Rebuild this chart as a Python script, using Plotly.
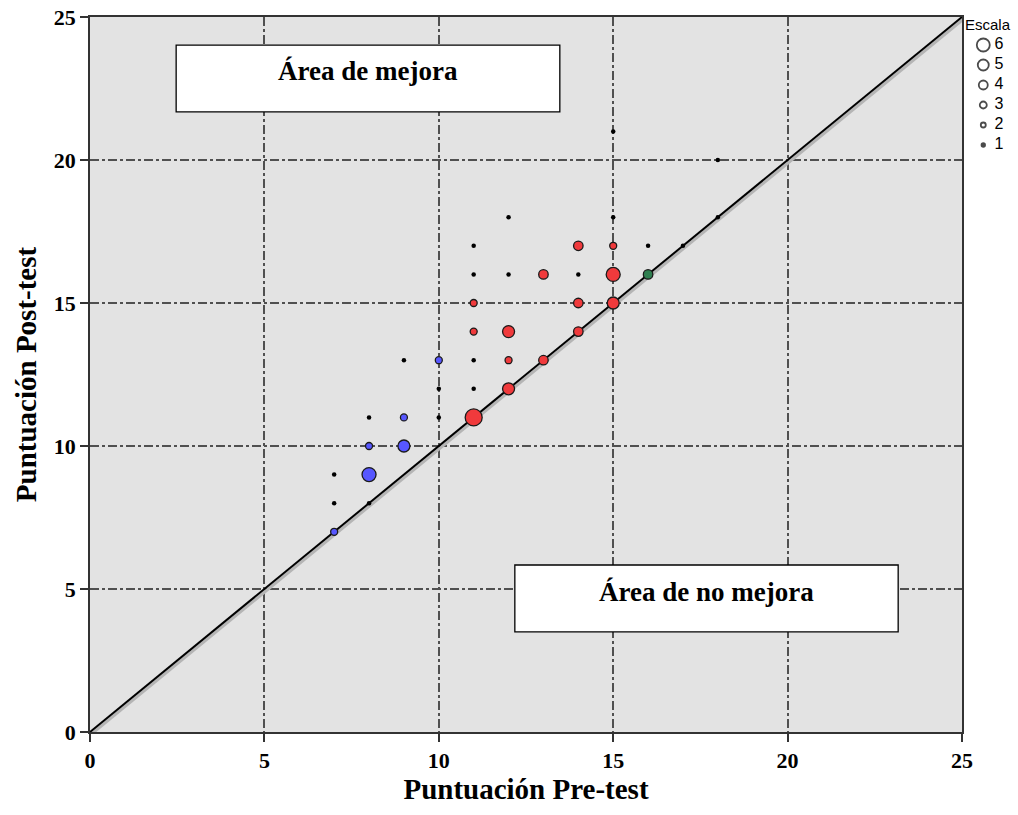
import plotly.graph_objects as go

# ---------------- data ----------------
pre_scores  = [7, 7, 7, 8, 8, 8, 8, 9, 9, 9, 10, 10, 10,
               11, 11, 11, 11, 11, 11, 11, 12, 12, 12, 12, 12,
               13, 13, 14, 14, 14, 14, 15, 15, 15, 15, 15,
               16, 16, 17, 18, 18]
post_scores = [7, 8, 9, 8, 9, 10, 11, 10, 11, 13, 11, 12, 13,
               11, 12, 13, 14, 15, 16, 17, 12, 13, 14, 16, 18,
               13, 16, 14, 15, 16, 17, 15, 16, 17, 18, 21,
               16, 17, 17, 18, 20]
counts      = [2, 1, 1, 1, 5, 2, 1, 4, 2, 1, 1, 1, 2,
               6, 1, 1, 2, 2, 1, 1, 4, 2, 4, 1, 1,
               3, 3, 3, 3, 1, 3, 4, 5, 2, 1, 1,
               3, 1, 1, 1, 1]
groups      = ["B", "k", "k", "k", "B", "B", "k", "B", "B", "k", "k", "k", "B",
               "R", "k", "k", "R", "R", "k", "k", "R", "R", "R", "k", "k",
               "R", "R", "R", "R", "k", "R", "R", "R", "R", "k", "k",
               "G", "k", "k", "k", "k"]

diag_x = [0, 25]
diag_y = [0, 25]

x_ticks = [0, 5, 10, 15, 20, 25]
y_ticks = [0, 5, 10, 15, 20, 25]

legend_levels = [6, 5, 4, 3, 2, 1]

# ---------------- styles ----------------
group_colors = {"R": "#f03a3c", "B": "#5757ff", "G": "#2f7f50", "k": "#000000"}
size_px = {1: 4.5, 2: 7, 3: 9.5, 4: 12, 5: 14, 6: 17}
legend_px = {6: 13, 5: 11, 4: 9, 3: 7, 2: 5, 1: 3.5}

W, H = 1018, 815
L, R, T, B = 90, 962, 17, 732   # plot area in pixels

fig = go.Figure()

# diagonal with a faint shadow
sh_dx = 1.5 * 25 / (R - L)
sh_dy = 2.0 * 25 / (B - T)
fig.add_trace(go.Scatter(x=[v + sh_dx for v in diag_x], y=[v - sh_dy for v in diag_y],
                         mode="lines", line=dict(color="#b5b5b5", width=3),
                         hoverinfo="skip", showlegend=False))
fig.add_trace(go.Scatter(x=diag_x, y=diag_y, mode="lines",
                         line=dict(color="#000000", width=2),
                         hoverinfo="skip", showlegend=False))

# bubbles
fig.add_trace(go.Scatter(
    x=pre_scores, y=post_scores, mode="markers",
    marker=dict(size=[size_px[c] for c in counts],
                color=[group_colors[g] for g in groups],
                line=dict(color="#1a1a1a", width=[0 if c == 1 else 1.3 for c in counts]),
                opacity=1),
    showlegend=False, cliponaxis=False))

# legend (in its own small subplot at the right)
leg_top, leg_step = 45, 20
leg_y = [leg_top + i * leg_step for i in range(len(legend_levels))]
fig.add_trace(go.Scatter(
    x=[0.38] * len(legend_levels), y=leg_y, mode="markers",
    marker=dict(size=[legend_px[v] for v in legend_levels],
                color=["rgba(0,0,0,0)" if v > 1 else "#000" for v in legend_levels],
                line=dict(color="#000", width=1.8)),
    xaxis="x2", yaxis="y2", showlegend=False, hoverinfo="skip", cliponaxis=False))
fig.add_trace(go.Scatter(
    x=[0.58] * len(legend_levels), y=leg_y, mode="text",
    text=[str(v) for v in legend_levels], textposition="middle right",
    textfont=dict(family="Liberation Sans, Arial", size=16, color="#000"),
    xaxis="x2", yaxis="y2", showlegend=False, hoverinfo="skip", cliponaxis=False))

serif = "Liberation Serif, Times New Roman, serif"

axis_common = dict(
    range=[0, 25], showgrid=True, gridcolor="#505050", gridwidth=1.6,
    griddash="9px,3px,3px,3px", zeroline=False,
    showline=True, linecolor="#333", linewidth=1.6, mirror=True,
    ticks="outside", ticklen=8, tickwidth=1.6, tickcolor="#333",
    automargin=False,
    tickfont=dict(family=serif, size=22, color="#000", weight="bold"),
)

fig.update_layout(
    template="none",
    width=W, height=H,
    margin=dict(l=0, r=0, t=0, b=0),
    paper_bgcolor="white", plot_bgcolor="rgba(0,0,0,0)",
    xaxis=dict(domain=[L / W, R / W], tickvals=x_ticks,
               ticktext=[str(v) for v in x_ticks],
               title=dict(text="Puntuación Pre-test", standoff=4,
                          font=dict(family=serif, size=29, color="#000", weight="bold")),
               **axis_common),
    yaxis=dict(domain=[(H - B) / H, (H - T) / H], tickvals=y_ticks,
               ticktext=[str(v) for v in y_ticks],
               title=dict(text="Puntuación Post-test", standoff=9,
                          font=dict(family=serif, size=29, color="#000", weight="bold")),
               **axis_common),
    xaxis2=dict(domain=[R / W, 1], range=[0, 1], visible=False, fixedrange=True,
                automargin=False),
    yaxis2=dict(domain=[1 - 165 / H, 1], range=[165, 0], visible=False, fixedrange=True,
                automargin=False),
    showlegend=False,
)

# grey plot background
fig.add_shape(type="rect", xref="x domain", yref="y domain", x0=0, x1=1, y0=0, y1=1,
              fillcolor="#e3e3e3", line=dict(width=0), layer="below")

# "Escala" legend title
fig.add_annotation(xref="paper", yref="paper", x=(R + 1) / W, y=1 - 24 / H,
                   text="Escala", showarrow=False, xanchor="left", yanchor="middle",
                   font=dict(family="Liberation Sans, Arial", size=15, color="#000"))

# area boxes
boxes = [
    dict(x0=2.47, x1=13.47, y0=21.68, y1=24.02, text="Área de mejora", ty=23.1),
    dict(x0=12.18, x1=23.17, y0=3.5, y1=5.84, text="Área de no mejora", ty=4.9),
]
for bx in boxes:
    fig.add_shape(type="rect", xref="x", yref="y", x0=bx["x0"], x1=bx["x1"],
                  y0=bx["y0"], y1=bx["y1"], fillcolor="white",
                  line=dict(color="#000", width=1.3), layer="above")
    fig.add_annotation(xref="x", yref="y", x=(bx["x0"] + bx["x1"]) / 2, y=bx["ty"],
                       text=bx["text"], showarrow=False,
                       font=dict(family=serif, size=27, color="#000", weight="bold"))

fig.write_html("out.html")
